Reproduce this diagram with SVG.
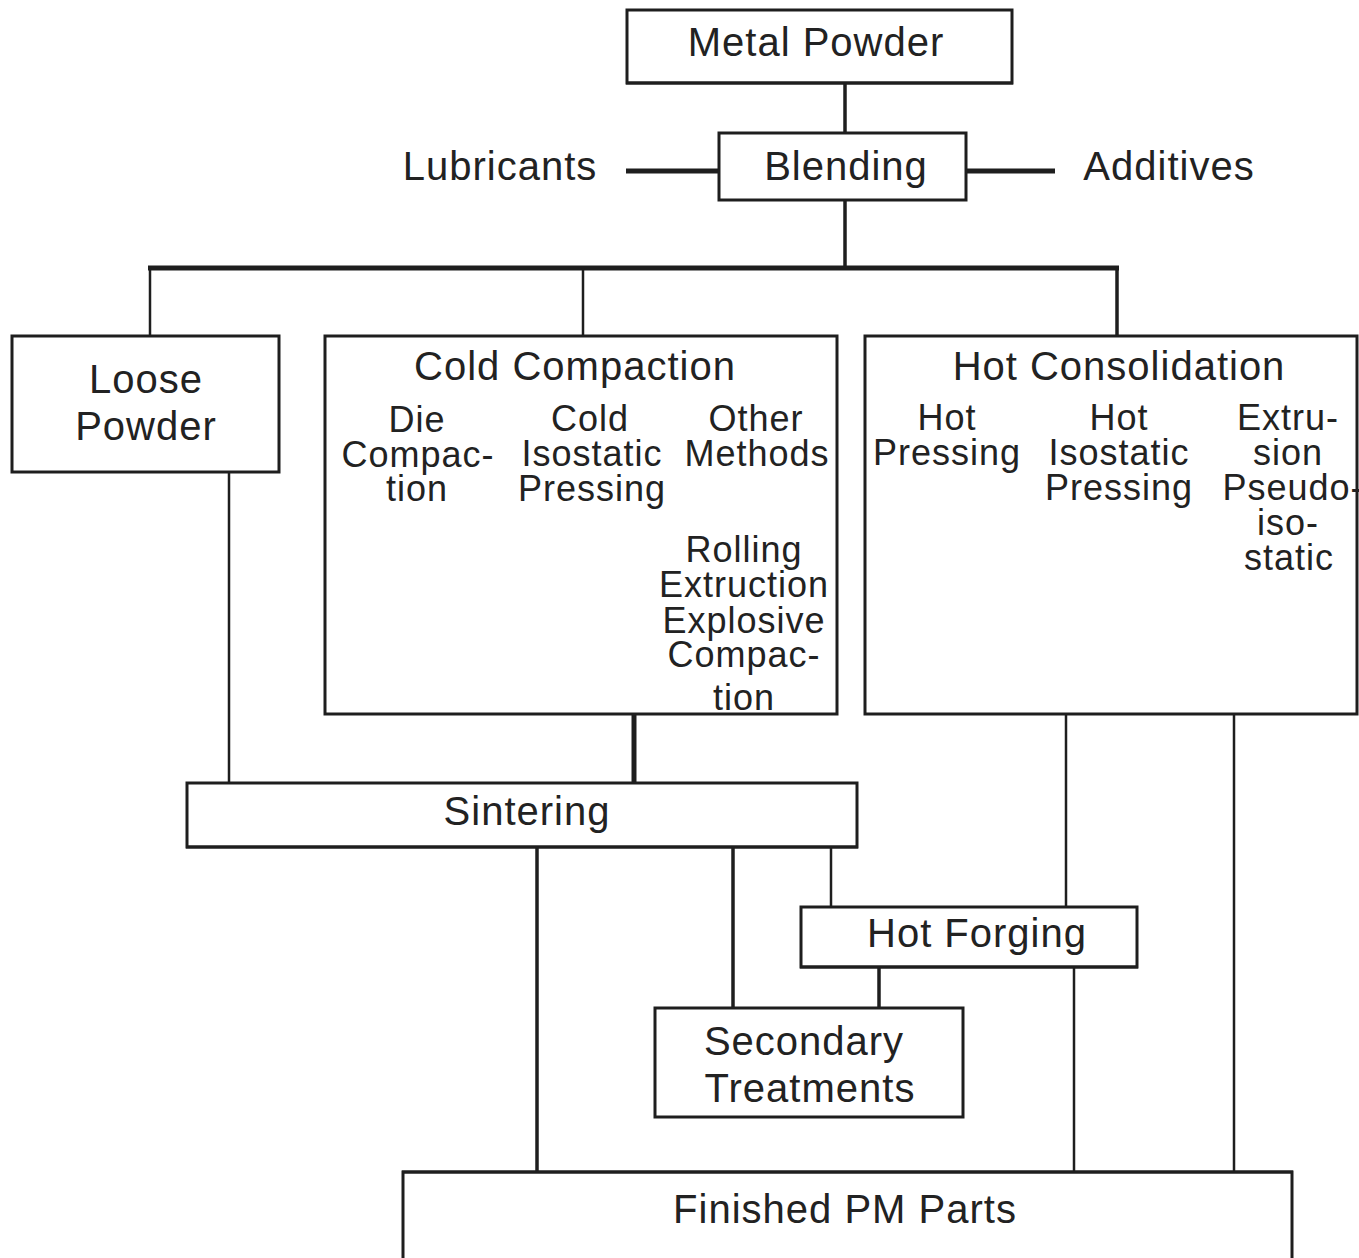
<svg xmlns="http://www.w3.org/2000/svg" width="1359" height="1258" viewBox="0 0 1359 1258">
<style>
.box{fill:#fff;stroke:#1e1e1e;stroke-width:3}
.t{font-family:"Liberation Sans",Arial,sans-serif;font-size:40px;letter-spacing:1px;fill:#222;text-anchor:middle}
.s{font-family:"Liberation Sans",Arial,sans-serif;font-size:36px;letter-spacing:1px;fill:#222;text-anchor:middle}
.c{stroke:#1e1e1e;fill:none}
.thin{stroke-width:2.5}
.mid{stroke-width:3.5}
.thick{stroke-width:5}
</style>
<rect width="1359" height="1258" fill="#fff"/>
<g id="connectors">
<line class="c mid" x1="845" y1="83" x2="845" y2="133"/>
<line class="c thick" x1="626" y1="171" x2="719" y2="171"/>
<line class="c thick" x1="966" y1="171" x2="1055" y2="171"/>
<line class="c mid" x1="845" y1="200" x2="845" y2="268"/>
<line class="c thick" x1="148" y1="268" x2="1119" y2="268"/>
<line class="c thin" x1="150" y1="268" x2="150" y2="336"/>
<line class="c thin" x1="583" y1="268" x2="583" y2="336"/>
<line class="c mid" x1="1117" y1="268" x2="1117" y2="336"/>
<line class="c thin" x1="229" y1="472" x2="229" y2="783"/>
<line class="c thick" x1="634" y1="714" x2="634" y2="783"/>
<line class="c thin" x1="1066" y1="714" x2="1066" y2="907"/>
<line class="c thin" x1="1234" y1="714" x2="1234" y2="1172"/>
<line class="c mid" x1="537" y1="847" x2="537" y2="1172"/>
<line class="c mid" x1="733" y1="847" x2="733" y2="1008"/>
<line class="c thin" x1="831" y1="847" x2="831" y2="907"/>
<line class="c mid" x1="879" y1="967" x2="879" y2="1008"/>
<line class="c thin" x1="1074" y1="967" x2="1074" y2="1172"/>
</g>
<g id="metal-powder">
<rect class="box" x="627" y="10" width="385" height="73"/>
<line class="c" stroke-width="3" x1="626" y1="83" x2="1013" y2="83"/>
<text class="t" x="816" y="56">Metal Powder</text>
</g>
<g id="lubricants"><text class="t" x="500" y="180">Lubricants</text></g>
<g id="additives"><text class="t" x="1169" y="180">Additives</text></g>
<g id="blending">
<rect class="box" x="719" y="133" width="247" height="67"/>
<text class="t" x="846" y="180">Blending</text>
</g>
<g id="loose-powder">
<rect class="box" x="12" y="336" width="267" height="136"/>
<text class="t" x="146" y="393">Loose</text>
<text class="t" x="146" y="440">Powder</text>
</g>
<g id="cold-compaction">
<rect class="box" x="325" y="336" width="512" height="378"/>
<text class="t" x="575" y="380">Cold Compaction</text>
<text class="s" x="417" y="432">Die</text>
<text class="s" x="418" y="467">Compac-</text>
<text class="s" x="417" y="501">tion</text>
<text class="s" x="590" y="431">Cold</text>
<text class="s" x="592" y="466">Isostatic</text>
<text class="s" x="592" y="501">Pressing</text>
<text class="s" x="756" y="431">Other</text>
<text class="s" x="757" y="466">Methods</text>
<text class="s" x="744" y="562">Rolling</text>
<text class="s" x="744" y="597">Extruction</text>
<text class="s" x="744" y="633">Explosive</text>
<text class="s" x="744" y="667">Compac-</text>
<text class="s" x="744" y="710">tion</text>
</g>
<g id="hot-consolidation">
<rect class="box" x="865" y="336" width="492" height="378"/>
<text class="t" x="1119" y="380">Hot Consolidation</text>
<text class="s" x="947" y="430">Hot</text>
<text class="s" x="947" y="465">Pressing</text>
<text class="s" x="1119" y="430">Hot</text>
<text class="s" x="1119" y="465">Isostatic</text>
<text class="s" x="1119" y="500">Pressing</text>
<text class="s" x="1288" y="430">Extru-</text>
<text class="s" x="1288" y="465">sion</text>
<text class="s" x="1293" y="500">Pseudo-</text>
<text class="s" x="1288" y="535">iso-</text>
<text class="s" x="1289" y="570">static</text>
</g>
<g id="sintering">
<rect class="box" x="187" y="783" width="670" height="64"/>
<line class="c" stroke-width="3" x1="186" y1="847" x2="858" y2="847"/>
<text class="t" x="527" y="825">Sintering</text>
</g>
<g id="hot-forging">
<rect class="box" x="801" y="907" width="336" height="60"/>
<line class="c" stroke-width="3" x1="800" y1="967" x2="1138" y2="967"/>
<text class="t" x="977" y="947">Hot Forging</text>
</g>
<g id="secondary-treatments">
<rect class="box" x="655" y="1008" width="308" height="109"/>
<text class="t" x="804" y="1055">Secondary</text>
<text class="t" x="810" y="1102">Treatments</text>
</g>
<g id="finished-pm-parts">
<rect class="box" x="403" y="1172" width="889" height="100"/>
<line class="c" stroke-width="3" x1="402" y1="1172" x2="1293" y2="1172"/>
<text class="t" x="845" y="1223">Finished PM Parts</text>
</g>
</svg>
